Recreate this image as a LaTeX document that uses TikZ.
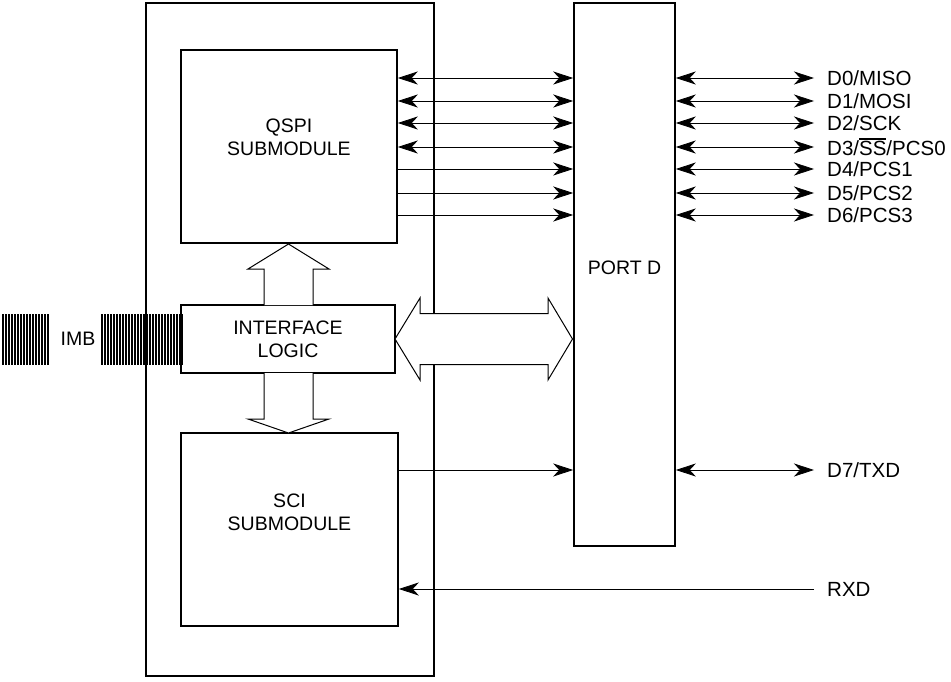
\documentclass[tikz,border=0pt]{standalone}
\usepackage{fontspec}
\setmainfont{Liberation Sans}
\usetikzlibrary{arrows.meta}
\newcommand{\ovbar}[1]{\leavevmode\vbox{\hrule height 1.3pt\kern1.6pt\hbox{#1}}}
\begin{document}
\begin{tikzpicture}[x=1pt,y=-1pt,
  blk/.style={draw, line width=1.6pt, inner sep=0pt},
  sig/.style={line width=0.8pt},
  tip/.tip={Stealth[length=20pt,width=13pt,inset=6pt]},
  ar/.style={sig,-tip},
  bar/.style={sig,tip-tip},
  lbl/.style={anchor=west, inner sep=0pt, font=\fontsize{20.5}{22}\selectfont},
  txt/.style={inner sep=0pt, align=center, font=\fontsize{19.5}{23}\selectfont},
  barrow/.style={draw, fill=white, line width=1pt, line join=miter},
  hatch/.style={line width=1.5pt}
]
\useasboundingbox (0,0) rectangle (951,682);
% boxes
\node[blk, minimum width=288pt, minimum height=673pt] (outer) at (290,339.5) {};
\node[blk, minimum width=216pt, minimum height=193pt] (qspi) at (289,146.5) {};
\node[blk, minimum width=217pt, minimum height=193pt] (sci) at (289.5,529.5) {};
\node[blk, fill=white, minimum width=101pt, minimum height=543pt] (portd) at (624.5,274.5) {};
% hatching (IMB)
\foreach \x in {3,6,...,48} {\draw[hatch] (\x,314) -- (\x,365);}
\foreach \x in {102,105,...,180} {\draw[hatch] (\x,314) -- (\x,365);}
\node[txt] (imb) at (78,339) {IMB};
\node[blk, fill=white, minimum width=214pt, minimum height=68pt] (ifl) at (288,339) {};
\draw[line width=3pt] (181,314) -- (181,365);
% texts
\node[txt] (qspit) at (289,137) {QSPI\\SUBMODULE};
\node[txt] (iflt) at (288,339) {INTERFACE\\LOGIC};
\node[txt] (scit) at (289.5,512) {SCI\\SUBMODULE};
\node[txt] (portdt) at (624.5,268) {PORT D};
% block arrows
\draw[barrow] (264,305) -- (264,269) -- (248,269) -- (288.5,244) -- (329,269) -- (313,269) -- (313,305);
\draw[barrow] (264,373) -- (264,419) -- (248,419) -- (288.5,433) -- (329,419) -- (313,419) -- (313,373);
\draw[barrow] (395,339) -- (420,298) -- (420,313.5) -- (548,313.5) -- (548,298) -- (572.5,339)
  -- (548,380) -- (548,364.5) -- (420,364.5) -- (420,380) -- cycle;
% QSPI <-> PORT D
\foreach \y/\s in {78/bar,101/bar,123/bar,147/bar,169/ar,193/ar,215/ar} {
  \draw[\s] (qspi.east |- 0,\y) -- (portd.west |- 0,\y);
}
% PORT D <-> pins
\foreach \y/\t [count=\i] in {78/{D0/MISO},101/{D1/MOSI},123/{D2/SCK},147/{D3/\ovbar{SS}/PCS0},169/{D4/PCS1},193/{D5/PCS2},215/{D6/PCS3}} {
  \coordinate (pin\i) at (814,\y);
  \draw[bar] (portd.east |- 0,\y) -- (pin\i);
  \node[lbl] (lab\i) at (827,\y) {\t};
}
% SCI
\draw[ar] (sci.east |- 0,470) -- (portd.west |- 0,470);
\coordinate (txd) at (814,470);
\draw[bar] (portd.east |- 0,470) -- (txd);
\node[lbl] (txdl) at (827,470) {D7/TXD};
\coordinate (rxd) at (814,589);
\draw[ar] (rxd) -- (sci.east |- 0,589);
\node[lbl] (rxdl) at (827,589) {RXD};
\end{tikzpicture}
\end{document}
